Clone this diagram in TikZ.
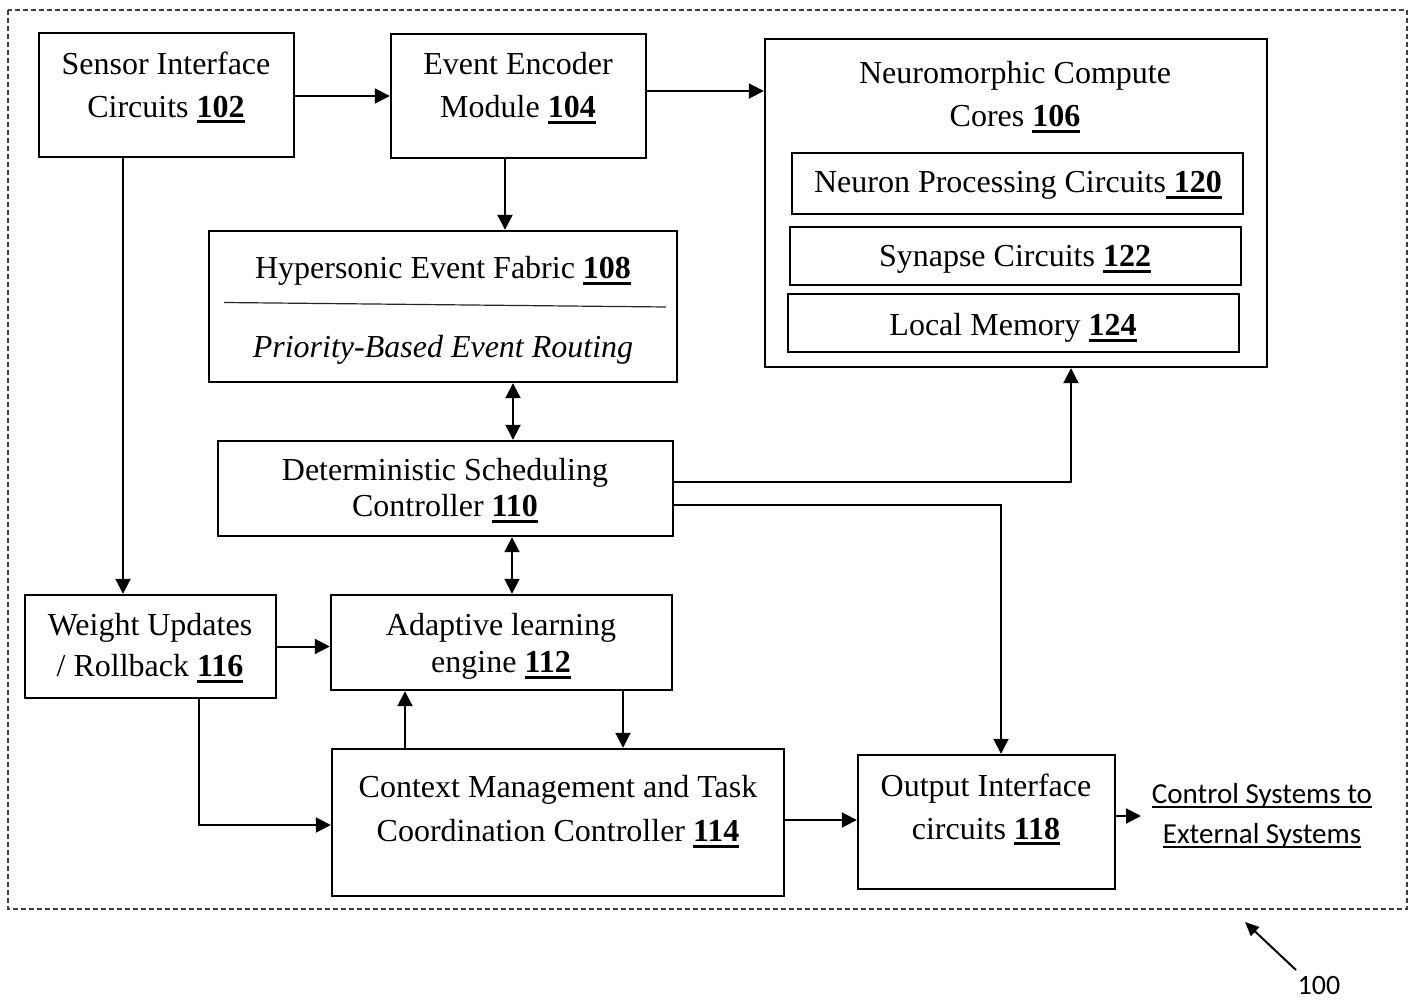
\documentclass[tikz,border=0pt]{standalone}
\usepackage{fontspec}
\setmainfont{Liberation Serif}
\newfontfamily\calibri{Carlito}
\usetikzlibrary{arrows.meta,calc}
\newcommand\refnum[1]{\setbox0\hbox{\textbf{#1}}\rlap{\rule[-6pt]{\wd0}{2.8pt}}\box0}
\newcommand\calul[1]{\setbox0\hbox{#1}\rlap{\rule[-4.5pt]{\wd0}{1.6pt}}\box0}
\newcommand\fs[1]{\fontsize{32}{#1}\selectfont}
\begin{document}
\begin{tikzpicture}[x=1pt,y=-1pt,
  blk/.style={draw, line width=2.4pt, inner sep=0pt},
  txt/.style={align=center, inner sep=0pt, anchor=north},
  arr/.style={line width=2pt, -{Triangle[length=15pt,width=15pt]}},
  darr/.style={line width=2pt, {Triangle[length=15pt,width=15pt]}-{Triangle[length=15pt,width=15pt]}},
  frame/.style={draw=black!75, line width=1.2pt, dash pattern=on 5pt off 3pt}]
\useasboundingbox (0,0) rectangle (1414,1003);
\draw[frame] (8,10) rectangle (1407,909);

% boxes
\node[blk, minimum width=255pt, minimum height=124pt] (b102) at (166.5,95) {};
\node[blk, minimum width=255pt, minimum height=124pt] (b104) at (518.5,96) {};
\node[blk, minimum width=502pt, minimum height=328pt] (b106) at (1016,203) {};
\node[blk, minimum width=451pt, minimum height=61pt] (b120) at (1017.5,183.5) {};
\node[blk, minimum width=451pt, minimum height=58pt] (b122) at (1015.5,256) {};
\node[blk, minimum width=451pt, minimum height=58pt] (b124) at (1013.5,323) {};
\node[blk, minimum width=468pt, minimum height=151pt] (b108) at (443,306.5) {};
\node[blk, minimum width=455pt, minimum height=95pt] (b110) at (445.5,488.5) {};
\node[blk, minimum width=251pt, minimum height=103pt] (b116) at (150.5,646.5) {};
\node[blk, minimum width=341pt, minimum height=95pt] (b112) at (501.5,642.5) {};
\node[blk, minimum width=452pt, minimum height=147pt] (b114) at (558,822.5) {};
\node[blk, minimum width=257pt, minimum height=134pt] (b118) at (986.5,822) {};

% texts
\node[txt, font=\fs{43}] (t102) at (166,51.5) {Sensor Interface\\Circuits \refnum{102}};
\node[txt, font=\fs{43}] (t104) at (518,52.5) {Event Encoder\\Module \refnum{104}};
\node[txt, font=\fs{43}] (t106) at (1015,61.5) {Neuromorphic Compute\\Cores \refnum{106}};
\node[txt, font=\fs{43}] (t120) at (1018,171.5) {Neuron Processing Circuits\refnum{ 120}};
\node[txt, font=\fs{43}] (t122) at (1015,245.5) {Synapse Circuits \refnum{122}};
\node[txt, font=\fs{43}] (t124) at (1013,313.5) {Local Memory \refnum{124}};
\node[txt, font=\fs{43}] (t108) at (443,256.5) {Hypersonic Event Fabric \refnum{108}};
\draw[line width=1.2pt, black!85] (224,302.5) -- (666,307);
\node[txt, font=\fs{43}\itshape] (t108b) at (443,335) {Priority-Based Event Routing};
\node[txt, font=\fs{36}] (t110) at (445,458.5) {Deterministic Scheduling\\Controller \refnum{110}};
\node[txt, font=\fs{41}] (t116) at (150,613.5) {Weight Updates\\/ Rollback \refnum{116}};
\node[txt, font=\fs{37}] (t112) at (501,613.5) {Adaptive learning\\engine \refnum{112}};
\node[txt, font=\fs{44}] (t114) at (558,775.5) {Context Management and Task\\Coordination Controller \refnum{114}};
\node[txt, font=\fs{43}] (t118) at (986,773.5) {Output Interface\\circuits \refnum{118}};
\node[txt, font=\calibri\fontsize{29}{40}\selectfont] (tout) at (1262,783) {\calul{Control Systems to}\\\calul{External Systems}};
\node[font=\calibri\fontsize{28}{32}\selectfont, inner sep=0pt] (t100) at (1319,986) {100};

% connectors
\draw[arr] ([yshift=-1pt]b102.east) -- ([yshift=-1pt]b102.east -| b104.west);
\draw[arr] ([yshift=5pt]b104.east) -- ([yshift=5pt]b104.east -| b106.west);
\draw[arr] ([xshift=-43.5pt]b102.south) -- ([xshift=-43.5pt]b102.south |- b116.north);
\draw[arr] ([xshift=-13.5pt]b104.south) -- ([xshift=-13.5pt]b104.south |- b108.north);
\draw[darr] ([xshift=70pt]b108.south) -- ([xshift=70pt]b108.south |- b110.north);
\draw[darr] ([xshift=10.5pt]b112.north) -- ([xshift=10.5pt]b112.north |- b110.south);
\draw[arr] ([yshift=6.5pt]b110.east) -| ([xshift=55pt]b106.south);
\draw[arr] ([yshift=-16.5pt]b110.east) -| ([xshift=14.5pt]b118.north);
\draw[arr] (b116.east) -- (b116.east -| b112.west);
\draw[arr] ([xshift=48.5pt]b116.south) |- ([yshift=-2.5pt]b114.west);
\draw[arr] ([xshift=-153pt]b114.north) -- ([xshift=-153pt]b114.north |- b112.south);
\draw[arr] ([xshift=121.5pt]b112.south) -- ([xshift=121.5pt]b112.south |- b114.north);
\draw[arr] ([yshift=2.5pt]b114.east) -- ([yshift=2.5pt]b114.east -| b118.west);
\coordinate (extend) at (1141,816);
\draw[arr] ([yshift=6pt]b118.east) -- (extend);
\coordinate (p100) at (1296,970);
\coordinate (q100) at (1245,922);
\draw[line width=2pt, -{Triangle[length=14pt,width=12pt]}] (p100) -- (q100);
\end{tikzpicture}
\end{document}
